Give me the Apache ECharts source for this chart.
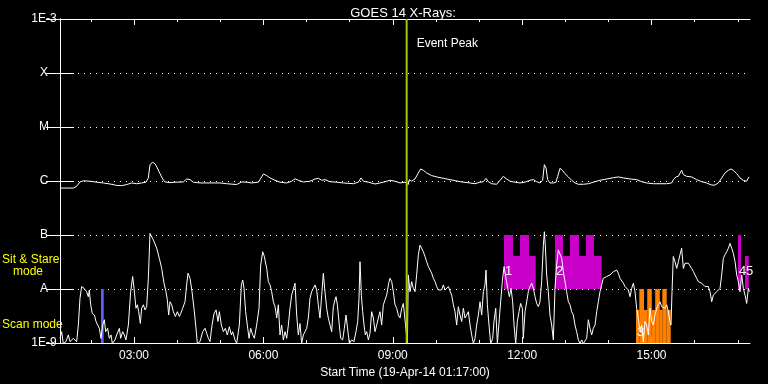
<!DOCTYPE html>
<html>
<head>
<meta charset="utf-8">
<script src="https://cdn.jsdelivr.net/npm/echarts@6/dist/echarts.min.js"></script>
<style>html,body{margin:0;padding:0;background:#000;}#chart{width:768px;height:384px;}</style>
</head>
<body>
<div id="chart"></div>
<script>
// ---------- DATA ----------
// time values are minutes after the start time 19-Apr-14 01:17:00, flux in W/m^2
const startClock = '01:17';
const titleText = 'GOES 14 X-Rays:';
const xAxisTitle = 'Start Time (19-Apr-14 01:17:00)';
const majorTickLabels = ['03:00', '06:00', '09:00', '12:00', '15:00'];
const hourTickLabels = ['02:00','03:00','04:00','05:00','06:00','07:00','08:00','09:00','10:00','11:00','12:00','13:00','14:00','15:00','16:00','17:00'];
const yTickLabels = ['1E-9', 'A', 'B', 'C', 'M', 'X', '1E-3'];
const yMin = 1e-9, yMax = 1e-3;
const xMax = 960;

// long channel (1-8 A)
const longChannel = [
[0,7.4e-7],[18.6,7.4e-7],[23.2,8.0e-7],[27.8,9.6e-7],[32.5,1.01e-6],[41.7,9.9e-7],[51.0,9.5e-7],[60.3,9.2e-7],[69.6,8.8e-7],[78.8,8.3e-7],[85.8,8.2e-7],[92.8,8.6e-7],[99.7,9.2e-7],[102.0,9.9e-7],[106.7,8.9e-7],[113.6,9.2e-7],[119.7,9.5e-7],[122.9,1.14e-6],[125.2,2.01e-6],[128.9,2.22e-6],[132.2,2.09e-6],[135.4,1.74e-6],[139.1,1.37e-6],[142.8,1.09e-6],[146.1,9.6e-7],[153.1,9.3e-7],[160.0,9.5e-7],[171.6,9.6e-7],[176.2,1.09e-6],[178.6,1.14e-6],[180.9,1.06e-6],[185.5,9.5e-7],[194.8,9.2e-7],[208.7,9.2e-7],[222.6,9.2e-7],[231.9,8.9e-7],[245.8,8.6e-7],[252.8,9.6e-7],[259.7,9.5e-7],[266.7,9.2e-7],[276.0,9.5e-7],[280.6,1.19e-6],[282.9,1.35e-6],[287.6,1.26e-6],[292.2,1.14e-6],[299.2,1.03e-6],[306.1,9.5e-7],[315.4,9.2e-7],[322.3,9.9e-7],[327.0,1.10e-6],[331.6,1.03e-6],[338.6,9.6e-7],[347.9,9.9e-7],[354.8,1.09e-6],[359.4,1.12e-6],[364.1,1.03e-6],[368.7,1.06e-6],[375.7,9.7e-7],[384.9,9.5e-7],[394.2,9.2e-7],[408.1,8.9e-7],[415.1,9.5e-7],[418.8,1.14e-6],[422.1,9.9e-7],[429.0,9.5e-7],[438.3,8.8e-7],[445.2,9.2e-7],[452.2,9.7e-7],[459.2,1.03e-6],[466.1,9.9e-7],[473.1,9.2e-7],[480.0,9.5e-7],
[482.3,9.5e-7],[484.6,8.6e-7],[486.0,1.06e-6],[489.3,9.9e-7],[493.9,1.09e-6],[498.5,1.41e-6],[501.8,1.67e-6],[505.5,1.58e-6],[510.1,1.41e-6],[517.1,1.26e-6],[524.1,1.19e-6],[533.3,1.12e-6],[542.6,1.06e-6],[551.9,1.00e-6],[561.2,9.5e-7],[570.4,9.2e-7],[577.4,8.9e-7],[584.3,9.5e-7],[589.0,9.7e-7],[592.7,1.12e-6],[595.9,9.7e-7],[600.6,8.9e-7],[607.5,8.7e-7],[612.2,1.03e-6],[616.8,1.22e-6],[621.4,1.09e-6],[626.1,9.9e-7],[633.0,9.5e-7],[640.0,9.2e-7],[646.9,9.5e-7],[653.9,1.03e-6],[658.6,1.06e-6],[663.2,9.7e-7],[667.8,9.2e-7],[671.5,1.03e-6],[673.9,2.01e-6],[676.2,1.74e-6],[678.5,1.06e-6],[681.7,9.2e-7],[686.4,9.2e-7],[690.1,9.5e-7],[692.4,1.22e-6],[695.7,1.72e-6],[698.9,1.58e-6],[702.6,1.37e-6],[707.2,1.19e-6],[711.9,1.03e-6],[716.5,9.2e-7],[721.1,8.7e-7],[728.1,8.7e-7],[735.1,8.9e-7],[742.0,9.5e-7],[751.3,1.03e-6],[760.6,1.09e-6],[769.9,1.15e-6],[776.8,1.19e-6],[783.8,1.14e-6],[793.1,1.09e-6],[802.3,1.06e-6],[809.3,9.7e-7],[816.2,9.2e-7],[825.5,8.9e-7],[834.8,8.9e-7],[844.1,8.9e-7],[851.0,9.2e-7],[853.3,1.06e-6],[857.1,1.19e-6],[860.3,1.22e-6],[862.6,1.31e-6],[864.9,1.58e-6],[867.3,1.31e-6],[871.9,1.22e-6],[878.9,1.19e-6],[885.8,1.06e-6],[892.8,9.7e-7],[899.7,9.2e-7],[906.7,8.4e-7],[911.3,8.4e-7],[915.9,9.2e-7],[920.6,1.14e-6],[925.2,1.41e-6],[929.9,1.58e-6],[933.6,1.67e-6],[936.8,1.58e-6],[941.5,1.37e-6],[946.1,1.14e-6],[950.7,1.03e-6],[955.4,9.9e-7],[958.6,1.19e-6]
];

// short channel (0.5-4 A)
const shortChannel = [
[0,1.22e-9],[2.3,1.62e-9],[4.6,0.98e-9],[8.3,1.06e-9],[11.6,1.41e-9],[13.9,1.06e-9],[18.6,1.22e-9],[23.2,1.06e-9],[25.5,2.15e-9],[27.8,6.7e-9],[30.1,1.11e-8],[33.4,1.03e-8],[37.1,8.9e-9],[39.4,7.2e-9],[40.8,9.6e-9],[42.7,5.1e-9],[45.0,3.5e-9],[47.8,3.3e-9],[50.1,2.5e-9],[52.4,2.15e-9],[54.7,1.87e-9],[57.0,1.22e-9],[59.4,2.15e-9],[61.7,2.7e-9],[63.5,1.62e-9],[66.3,1.87e-9],[68.6,1.22e-9],[71.0,1.41e-9],[72.8,0.98e-9],[76.5,1.14e-9],[78.8,1.41e-9],[82.6,1.87e-9],[84.4,1.22e-9],[87.2,1.62e-9],[89.5,1.41e-9],[91.8,1.14e-9],[95.1,2.15e-9],[98.3,8.9e-9],[101.1,1.70e-8],[103.0,1.03e-8],[105.7,4.4e-9],[107.6,5.1e-9],[109.5,3.8e-9],[111.8,2.3e-9],[113.6,4.4e-9],[116.0,5.1e-9],[118.3,4.1e-9],[120.6,4.7e-9],[122.9,1.58e-8],[125.2,1.07e-7],[127.5,1.00e-7],[129.9,8.1e-8],[134.5,5.7e-8],[138.2,3.7e-8],[141.5,2.4e-8],[144.7,1.28e-8],[147.5,8.9e-9],[149.3,6.3e-9],[151.2,3.3e-9],[153.1,5.8e-9],[155.4,5.1e-9],[157.7,3.8e-9],[160.5,3.1e-9],[163.3,3.8e-9],[166.0,3.1e-9],[167.9,3.5e-9],[170.7,4.4e-9],[173.9,5.8e-9],[176.2,1.19e-8],[178.1,1.96e-8],[180.9,1.58e-8],[183.7,8.9e-9],[186.4,4.4e-9],[188.8,2.15e-9],[191.1,0.98e-9],[194.8,1.06e-9],[198.5,1.62e-9],[201.8,1.87e-9],[204.1,1.51e-9],[206.4,1.22e-9],[208.7,1.06e-9],[211.5,2.15e-9],[214.3,3.5e-9],[217.1,4.1e-9],[219.8,2.5e-9],[221.7,3.8e-9],[224.5,2.15e-9],[227.3,1.62e-9],[230.0,1.87e-9],[232.8,1.41e-9],[235.6,2.0e-9],[238.4,1.41e-9],[240.2,1.62e-9],[243.5,1.14e-9],[245.8,0.98e-9],[249.5,2.15e-9],[252.3,1.19e-8],[254.2,1.47e-8],[256.0,1.03e-8],[258.3,3.8e-9],[260.6,2.15e-9],[263.0,1.22e-9],[265.3,1.87e-9],[268.1,1.41e-9],[270.4,1.22e-9],[273.6,2.15e-9],[276.9,4.4e-9],[279.2,2.78e-8],[282.0,4.9e-8],[284.3,4.0e-8],[287.6,2.4e-8],[289.9,1.37e-8],[292.2,1.19e-8],[294.5,8.9e-9],[296.8,5.8e-9],[299.2,4.7e-9],[301.5,2.9e-9],[303.8,5.1e-9],[306.1,1.41e-9],[308.4,2.15e-9],[310.7,1.14e-9],[313.1,1.62e-9],[315.4,1.22e-9],[317.7,2.15e-9],[320.0,4.4e-9],[322.3,7.7e-9],[324.7,8.3e-9],
[327.0,1.28e-8],[329.3,3.3e-9],[331.6,1.41e-9],[333.9,2.3e-9],[336.2,0.98e-9],[338.6,1.41e-9],[340.9,1.62e-9],[343.2,1.87e-9],[345.5,2.9e-9],[347.8,6.7e-9],[350.1,8.9e-9],[352.5,1.03e-8],[354.8,1.19e-8],[357.1,9.6e-9],[359.4,5.1e-9],[361.7,2.9e-9],[364.1,7.7e-9],[366.4,1.96e-8],[368.2,1.03e-8],[371.0,4.4e-9],[373.3,2.9e-9],[375.7,2.15e-9],[378.0,1.62e-9],[380.3,4.7e-9],[382.6,6.3e-9],[384.0,7.2e-9],[385.9,5.1e-9],[388.6,2.15e-9],[390.5,1.22e-9],[393.3,1.14e-9],[395.6,1.87e-9],[397.9,3.3e-9],[400.2,3.3e-9],[402.6,0.98e-9],[405.8,1.14e-9],[409.0,1.06e-9],[411.8,1.62e-9],[414.2,2.5e-9],[416.0,6.7e-9],[417.4,3.2e-8],[419.3,7.7e-9],[421.1,3.8e-9],[423.0,2.15e-9],[424.8,1.41e-9],[426.7,1.62e-9],[429.0,1.14e-9],[431.3,1.51e-9],[433.6,3.8e-9],[436.0,2.9e-9],[438.3,1.62e-9],[440.6,2.15e-9],[442.9,2.9e-9],[445.2,3.8e-9],[447.5,2.15e-9],[449.9,5.1e-9],[452.2,6.3e-9],[454.5,7.7e-9],[457.3,1.28e-8],[459.1,1.58e-8],[461.5,1.37e-8],[463.8,8.9e-9],[466.1,5.1e-9],[468.4,4.4e-9],[470.7,3.3e-9],[473.1,2.9e-9],[475.4,4.4e-9],[477.7,5.4e-9],[480.0,5.8e-9],[483.3,0.98e-9],[484.6,1.82e-8],[487.0,8.9e-9],[489.3,1.37e-8],[491.6,1.03e-8],[493.9,8.9e-9],[496.2,1.82e-8],[498.6,4.3e-8],[500.9,6.5e-8],[503.2,6.1e-8],[505.5,4.9e-8],[507.8,4.0e-8],[510.2,3.2e-8],[512.5,2.6e-8],[514.8,2.4e-8],[517.1,1.96e-8],[519.4,1.58e-8],[521.8,1.37e-8],[524.1,1.11e-8],[526.4,9.6e-9],[528.7,8.9e-9],[531.0,9.6e-9],[533.3,1.19e-8],[535.7,9.6e-9],[538.0,8.9e-9],[540.3,1.11e-8],[542.6,1.03e-8],[544.9,7.7e-9],[547.3,5.1e-9],[549.6,3.8e-9],[551.9,2.15e-9],[554.2,4.7e-9],[556.5,3.3e-9],[558.9,2.5e-9],[561.2,4.4e-9],[563.5,2.9e-9],[565.8,3.3e-9],[568.1,3.8e-9],[570.5,2.15e-9],[572.8,1.41e-9],[575.1,0.98e-9],[577.4,1.22e-9],[579.7,2.15e-9],[582.0,3.3e-9],[584.4,5.8e-9],[586.7,3.3e-9],[589.0,8.9e-9],[591.3,1.19e-8],[592.7,2.24e-8],[594.6,5.1e-9],[596.9,2.15e-9],[599.2,0.98e-9],[602.0,1.22e-9],[603.8,2.5e-9],[606.2,4.4e-9],[608.5,0.98e-9],[610.8,1.06e-9],[613.1,5.8e-9],[615.4,1.37e-8],[617.8,2.6e-8],[620.5,1.58e-8],[622.9,1.03e-8],[625.2,7.2e-9],[627.5,1.03e-8],[629.8,5.8e-9],[631.7,2.15e-9],[634.0,0.98e-9],[636.3,2.5e-9],[638.6,3.8e-9],[640.9,5.4e-9],[643.3,4.4e-9],[644.6,1.22e-9],
[647.0,3.8e-9],[649.3,5.8e-9],[651.6,8.9e-9],[653.9,1.11e-8],[656.2,1.28e-8],[658.6,1.03e-8],[660.9,7.2e-9],[663.2,5.4e-9],[665.5,4.7e-9],[667.8,5.8e-9],[670.1,1.37e-8],[672.5,6.5e-8],[673.9,1.15e-7],[675.2,6.5e-8],[677.1,1.82e-8],[679.4,8.9e-9],[681.7,3.3e-9],[684.1,2.15e-9],[686.4,1.14e-9],[688.7,1.03e-8],[691.0,2.78e-8],[693.3,5.3e-8],[695.7,5.7e-8],[698.0,3.7e-8],[700.3,2.1e-8],[702.6,1.37e-8],[704.9,8.9e-9],[707.3,5.8e-9],[709.6,5.1e-9],[711.9,3.8e-9],[714.2,3.3e-9],[716.5,2.15e-9],[718.8,1.62e-9],[721.2,1.14e-9],[723.5,0.98e-9],[725.8,1.14e-9],[728.1,0.98e-9],[732.8,1.22e-9],[735.1,2.7e-9],[737.4,1.87e-9],[739.7,1.41e-9],[742.0,1.87e-9],[744.4,2.15e-9],[746.7,3.8e-9],[749.0,5.8e-9],[751.3,8.9e-9],[753.6,1.19e-8],[755.9,1.58e-8],[758.3,1.70e-8],[760.6,1.70e-8],[762.9,1.82e-8],[765.2,1.82e-8],[767.5,1.96e-8],[769.9,2.09e-8],[772.2,2.15e-8],[774.5,2.24e-8],[776.8,1.96e-8],[779.1,1.58e-8],[781.5,1.47e-8],[783.8,1.28e-8],[786.1,1.11e-8],[788.4,1.11e-8],[790.7,9.6e-9],[793.1,7.2e-9],[795.4,1.03e-8],[797.7,1.28e-8],[800.0,8.9e-9],[802.3,4.4e-9],[804.6,2.9e-9],[807.0,1.62e-9],[809.3,2.15e-9],[811.6,1.06e-9],[813.9,2.5e-9],[816.2,2.15e-9],[818.6,1.41e-9],[820.9,4.4e-9],[823.2,2.5e-9],[825.5,2.15e-9],[827.8,3.3e-9],[830.2,4.4e-9],[832.5,5.1e-9],[834.8,5.8e-9],[837.1,4.7e-9],[839.4,5.1e-9],[841.8,4.4e-9],[844.1,5.1e-9],[846.4,3.8e-9],[848.7,2.5e-9],[850.1,2.15e-9],[851.5,8.9e-9],[853.3,4.0e-8],[855.7,3.2e-8],[858.0,2.4e-8],[860.3,3.2e-8],[862.6,4.3e-8],[864.9,5.7e-8],[867.3,2.4e-8],[869.6,3.0e-8],[871.9,2.78e-8],[874.2,3.0e-8],[876.5,2.78e-8],[878.9,2.4e-8],[881.2,2.1e-8],[883.5,1.82e-8],[885.8,1.58e-8],[888.1,1.37e-8],[890.4,1.28e-8],[892.8,1.28e-8],[895.1,1.19e-8],[897.4,1.11e-8],[899.7,1.03e-8],[902.0,1.11e-8],[904.4,8.9e-9],[906.7,5.8e-9],[909.0,7.7e-9],[911.3,7.2e-9],[913.6,8.9e-9],[916.0,8.3e-9],[918.3,1.03e-8],[920.6,1.82e-8],[922.9,3.7e-8],[925.2,4.3e-8],[927.6,4.9e-8],[929.9,5.7e-8],[932.2,7.0e-8],[934.5,5.7e-8],[936.8,4.6e-8],[939.2,3.2e-8],[941.5,1.82e-8],[943.8,1.37e-8],[946.1,8.9e-9],[948.4,1.82e-8],[950.7,1.03e-8],[953.1,7.7e-9],[955.4,5.4e-9],[957.7,1.03e-8],[959.1,8.9e-9]
];

// observation mode bars: [start, end, top] ; bottoms given per mode
const sitStareBase = 1e-8;
const sitStareSteps = [[617.7,630.3,1e-7],[630.3,640.0,4.1e-8],[640.0,652.5,1e-7],[652.5,661.8,4.1e-8],[688.7,699.8,1e-7],[699.8,709.6,4.1e-8],[709.6,722.1,1e-7],[722.1,731.8,4.1e-8],[731.8,742.9,1e-7],[742.9,753.6,4.1e-8],[943.3,947.5,1e-7],[953.0,958.2,4.1e-8]];
const scanBase = 1e-9;
const scanSteps = [[801.4,806.0,4.1e-9],[806.0,812.5,1e-8],[812.5,817.0,4.1e-9],[817.0,823.4,1e-8],[823.4,828.1,4.1e-9],[828.1,834.5,1e-8],[834.5,838.0,4.1e-9],[838.0,844.1,1e-8],[844.1,849.7,4.1e-9]];
const otherModeBase = 1e-9;
const otherModeSteps = [[57.0,60.8,1e-8]];

// sequence numbers
const seqNumbers = ['1', '2', '3', '4', '5'];
const seqStarts = [617.7, 688.7, 801.4, 943.3, 953.0];
const seqLevels = [2.1e-8, 2.1e-8, 1.55e-9, 2.1e-8, 2.1e-8];

// event peak
const eventPeakMinute = 482.3;
const eventLabel = 'Event Peak';
const eventLabelLevel = 3.6e-4;

const modeLabels = ['Sit & Stare', 'mode', 'Scan mode'];

// ---------- CHART ----------
const FONT = 'Liberation Sans';
const START = (function(){const p = startClock.split(':').map(Number); return p[0]*60+p[1];})();
const toMin = s => { const p = s.split(':').map(Number); return p[0]*60 + p[1] - START; };
const majorMins = majorTickLabels.map(toMin);
const hourMins = hourTickLabels.map(toMin);
const fmtTime = v => { const t = Math.round(v + START); const h = Math.floor(t/60), m = t % 60; return String(h).padStart(2,'0') + ':' + String(m).padStart(2,'0'); };

const COLORS = { sit: '#c800c8', scan: '#ff8000', other: '#6060ff', event: '#a0c800' };

function blockData(steps, base, mode) {
  return steps.map(s => ({ value: [s[0], s[1], base, s[2]], mode }));
}
const blocks = [].concat(
  blockData(otherModeSteps, otherModeBase, 'other'),
  blockData(sitStareSteps, sitStareBase, 'sit'),
  blockData(scanSteps, scanBase, 'scan')
);

const baseX = { type: 'value', min: 0, max: xMax, splitLine: { show: false } };
const white = { color: '#ffffff', width: 1 };

const chart = echarts.init(document.getElementById('chart'), null, { renderer: 'canvas' });
chart.setOption({
  backgroundColor: '#000000',
  animation: false,
  title: {
    text: titleText, left: 398, top: 2, textAlign: 'center',
    textStyle: { color: '#ffffff', fontSize: 13, fontWeight: 'normal', fontFamily: FONT }
  },
  grid: { left: 60, right: 18, top: 19, bottom: 41, containLabel: false },
  xAxis: [
    Object.assign({}, baseX, {
      position: 'bottom',
      axisLine: { show: true, lineStyle: white },
      axisTick: { show: true, inside: true, length: 6, customValues: majorMins, lineStyle: white },
      axisLabel: { show: true, customValues: majorMins, formatter: fmtTime, color: '#ffffff', fontSize: 12, fontFamily: FONT, margin: 7 },
      name: xAxisTitle, nameLocation: 'middle', nameGap: 19,
      nameTextStyle: { color: '#ffffff', fontSize: 12, fontFamily: FONT }
    }),
    Object.assign({}, baseX, {
      position: 'top',
      axisLine: { show: true, lineStyle: white },
      axisTick: { show: true, inside: true, length: 6, customValues: majorMins, lineStyle: white },
      axisLabel: { show: false }
    }),
    Object.assign({}, baseX, {
      position: 'top',
      axisLine: { show: false },
      axisTick: { show: true, inside: true, length: 3, customValues: hourMins, lineStyle: white },
      axisLabel: { show: false }
    }),
    Object.assign({}, baseX, {
      position: 'bottom',
      axisLine: { show: false },
      axisTick: { show: true, inside: true, length: 3, customValues: hourMins, lineStyle: white },
      axisLabel: { show: false }
    })
  ],
  yAxis: [
    {
      type: 'log', logBase: 10, min: yMin, max: yMax, splitNumber: 6, position: 'left',
      axisLine: { show: true, lineStyle: white },
      axisTick: { show: true, inside: true, length: 14, lineStyle: white },
      axisLabel: {
        color: '#ffffff', fontSize: 12, fontFamily: FONT, align: 'center', margin: 16,
        formatter: v => yTickLabels[Math.round(Math.log10(v)) + 9] || ''
      },
      splitLine: { show: true, lineStyle: { color: '#ffffff', width: 1, type: [1, 5] } },
      minorTick: { show: false }
    },
    {
      type: 'log', logBase: 10, min: yMin, max: yMax, splitNumber: 6, position: 'right',
      axisLine: { show: true, lineStyle: white },
      axisTick: { show: true, inside: true, length: 14, lineStyle: white },
      axisLabel: { show: false },
      splitLine: { show: false }
    }
  ],
  graphic: [
    { type: 'text', left: 2, top: 254, style: { text: modeLabels[0], fill: '#ffff00', font: '12px ' + FONT } },
    { type: 'text', left: 13, top: 266, style: { text: modeLabels[1], fill: '#ffff00', font: '12px ' + FONT } },
    { type: 'text', left: 2, top: 319, style: { text: modeLabels[2], fill: '#ffff00', font: '12px ' + FONT } }
  ],
  series: [
    {
      type: 'custom', name: 'modes', z: 1, clip: true,
      encode: { x: [0, 1], y: [2, 3] },
      data: blocks,
      renderItem: function (params, api) {
        const item = blocks[params.dataIndex];
        const p1 = api.coord([api.value(0), api.value(3)]);
        const p2 = api.coord([api.value(1), api.value(2)]);
        return { type: 'rect', shape: { x: p1[0], y: p1[1], width: p2[0] - p1[0], height: p2[1] - p1[1] },
                 style: { fill: COLORS[item.mode] } };
      }
    },
    {
      type: 'line', name: 'long', z: 3, data: longChannel, showSymbol: false, symbol: 'none', clip: true,
      lineStyle: { color: '#ffffff', width: 1 }
    },
    {
      type: 'line', name: 'short', z: 3, data: shortChannel, showSymbol: false, symbol: 'none', clip: true,
      lineStyle: { color: '#ffffff', width: 1 }
    },
    {
      type: 'custom', name: 'seq', z: 4,
      data: seqStarts.map((s, i) => [s, seqLevels[i]]),
      renderItem: function (params, api) {
        const p = api.coord([api.value(0), api.value(1)]);
        return { type: 'text', x: p[0] + 1, y: p[1],
                 style: { text: seqNumbers[params.dataIndex], fill: '#ffffff', font: '13px ' + FONT,
                          align: 'left', verticalAlign: 'middle', textAlign: 'left', textVerticalAlign: 'middle' } };
      }
    },
    {
      type: 'custom', name: 'event', z: 5, clip: false,
      data: [[eventPeakMinute, eventLabelLevel]],
      renderItem: function (params, api) {
        const top = api.coord([api.value(0), yMax]);
        const bot = api.coord([api.value(0), yMin]);
        const lp = api.coord([api.value(0), api.value(1)]);
        return { type: 'group', children: [
          { type: 'line', shape: { x1: top[0], y1: top[1], x2: bot[0], y2: bot[1] },
            style: { stroke: COLORS.event, lineWidth: 2 } },
          { type: 'text', x: lp[0] + 10, y: lp[1] + 1,
            style: { text: eventLabel, fill: '#ffffff', font: '12px ' + FONT,
                     align: 'left', verticalAlign: 'middle', textAlign: 'left', textVerticalAlign: 'middle' } }
        ] };
      }
    }
  ]
});
</script>
</body>
</html>
